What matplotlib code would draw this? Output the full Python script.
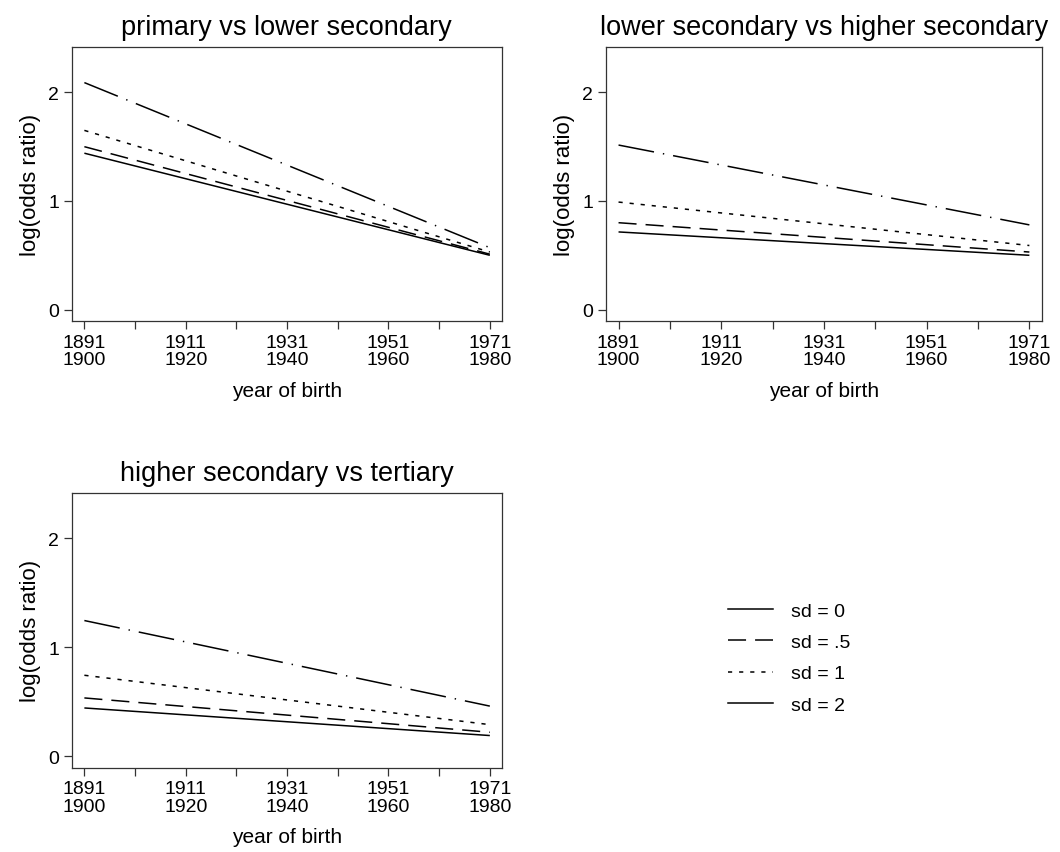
import matplotlib
matplotlib.use("Agg")
import matplotlib.pyplot as plt
from matplotlib.lines import Line2D

# birth cohorts 1891-1900 ... 1971-1980, index 1..9
cohort_pos = [1, 9]
tick_pos = [1, 2, 3, 4, 5, 6, 7, 8, 9]
tick_labels = ["1891\n1900", "", "1911\n1920", "", "1931\n1940", "",
               "1951\n1960", "", "1971\n1980"]

titles = ["primary vs lower secondary",
          "lower secondary vs higher secondary",
          "higher secondary vs tertiary"]
sd_labels = ["sd = 0", "sd = .5", "sd = 1", "sd = 2"]

# log odds ratio at first and last cohort, per sd
p1_sd0 = [1.44, 0.50]
p1_sd05 = [1.50, 0.51]
p1_sd1 = [1.65, 0.53]
p1_sd2 = [2.09, 0.57]

p2_sd0 = [0.715, 0.50]
p2_sd05 = [0.80, 0.53]
p2_sd1 = [0.99, 0.59]
p2_sd2 = [1.515, 0.78]

p3_sd0 = [0.443, 0.19]
p3_sd05 = [0.535, 0.22]
p3_sd1 = [0.743, 0.29]
p3_sd2 = [1.245, 0.46]

panels = [[p1_sd0, p1_sd05, p1_sd1, p1_sd2],
          [p2_sd0, p2_sd05, p2_sd1, p2_sd2],
          [p3_sd0, p3_sd05, p3_sd1, p3_sd2]]

styles = ["-", (0, (13, 6.5)), (0, (3, 5)), (0, (26, 6.5, 1, 6.5))]
# Stata legend shows the last key as solid
legend_styles = ["-", (0, (13, 6.5)), (0, (3, 5)), "-"]

plt.rcParams['font.family'] = ['Liberation Sans', 'DejaVu Sans']
plt.rcParams['lines.scale_dashes'] = False

fig = plt.figure(figsize=(10.6, 8.53), dpi=100)
W, H = 1060.0, 853.0
boxes = [(71.7, 48.3, 502, 322), (605.7, 48.3, 1041.7, 322),
         (71.7, 494, 502, 768.7)]

for i, (x0, y0, x1, y1) in enumerate(boxes):
    ax = fig.add_axes([x0 / W, 1 - y1 / H, (x1 - x0) / W, (y1 - y0) / H])
    for vals, ls in zip(panels[i], styles):
        ax.plot(cohort_pos, vals, color="black", ls=ls, lw=1.1,
                solid_capstyle="butt", dash_capstyle="butt")
    ax.set_xlim(0.75, 9.24)
    ax.set_ylim(-0.105, 2.415)
    ax.set_yticks([0, 1, 2])
    ax.set_xticks(tick_pos)
    ax.set_xticklabels(tick_labels, fontsize=14, linespacing=1.05)
    ax.tick_params(axis="y", labelsize=14, length=6, width=0.9, pad=3,
                   color="#333333")
    ax.tick_params(axis="x", length=6, width=0.9, pad=3, color="#333333")
    for s in ax.spines.values():
        s.set_color("#333333")
        s.set_linewidth(0.9)
    ax.set_title(titles[i], fontsize=19.5, pad=9.5)
    ax.set_xlabel("year of birth", fontsize=15, labelpad=9)
    ax.set_ylabel("log(odds ratio)", fontsize=16, labelpad=5)

handles = [Line2D([0], [0], color="black", ls=ls, lw=1.1) for ls in legend_styles]
fig.legend(handles, sd_labels, loc="center left",
           bbox_to_anchor=(728 / W, 1 - 659 / H), frameon=False,
           fontsize=14, handlelength=2.3, handletextpad=0.95,
           labelspacing=0.7, borderpad=0, borderaxespad=0)

fig.savefig("out.png", dpi=100)
